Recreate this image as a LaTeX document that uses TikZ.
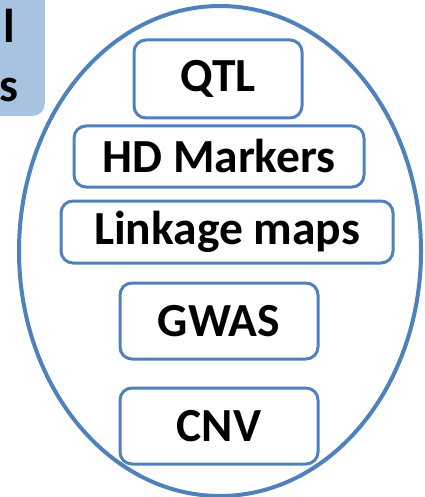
\documentclass[tikz,border=0pt]{standalone}
\usepackage{fontspec}
\setmainfont{Carlito}
\usetikzlibrary{shapes.geometric}
\definecolor{oblue}{RGB}{79,129,189}
\definecolor{lblue}{RGB}{168,194,226}
\tikzset{
  item/.style={draw=oblue, line width=3pt, rounded corners=12pt, inner sep=0pt,
    font=\fontsize{47.5}{57}\selectfont\bfseries, text=black},
  side/.style={inner sep=0pt, font=\fontsize{47.5}{57}\selectfont\bfseries, text=black}
}
\begin{document}
\begin{tikzpicture}[x=1pt,y=-1pt]
\useasboundingbox (0,0) rectangle (424,497);
\node[fill=lblue, rounded corners=12pt, minimum width=80pt, minimum height=136pt, anchor=south east, inner sep=0pt] (tools) at (45,116) {};
\node[side, anchor=base east] (t1) at (15,43) {l};
\node[side, anchor=base east] (t2) at (19,102) {s};
\node[ellipse, draw=oblue, line width=4pt, minimum width=402pt, minimum height=490pt, inner sep=0pt] (circ) at (220,251) {};
\node[item, minimum width=168pt, minimum height=78pt] (qtl) at (218,79) {QTL};
\node[item, minimum width=290pt, minimum height=61pt] (hd) at (219,156.5) {HD Markers};
\node[item, minimum width=332pt, minimum height=62pt] (link) at (227,232) {Linkage maps};
\node[item, minimum width=198pt, minimum height=76pt] (gwas) at (219,321) {GWAS};
\node[item, minimum width=198pt, minimum height=76pt] (cnv) at (219,426) {CNV};
\end{tikzpicture}
\end{document}
